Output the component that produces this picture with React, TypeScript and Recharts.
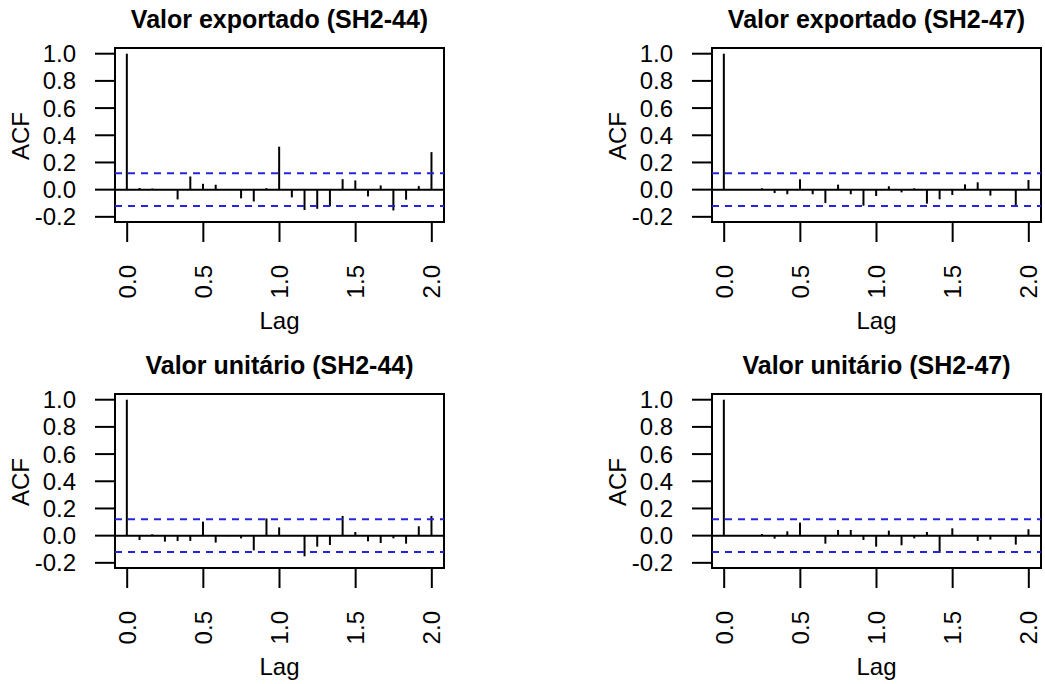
import { ComposedChart, Bar, XAxis, YAxis, ReferenceLine, ReferenceArea } from "recharts";

// lag in months (monthly series, frequency 12) -> lag in years on the axis
const lagMonths = [0, 1, 2, 3, 4, 5, 6, 7, 8, 9, 10, 11, 12, 13, 14, 15, 16, 17, 18, 19, 20, 21, 22, 23, 24];

const acfExport44 = [1.0, 0.012, 0.008, 0.0, -0.072, 0.097, 0.043, 0.036, 0.0, -0.064, -0.087, 0.011, 0.316, -0.057, -0.15, -0.141, -0.123, 0.077, 0.068, -0.05, 0.031, -0.153, -0.074, 0.026, 0.276];
const acfExport47 = [1.0, 0.002, 0.003, 0.01, -0.025, -0.034, 0.076, -0.034, -0.098, 0.037, -0.034, -0.118, -0.047, 0.025, -0.02, 0.01, -0.103, -0.071, -0.039, 0.039, 0.054, -0.044, 0.003, -0.127, 0.071];
const acfUnit44 = [1.0, -0.032, 0.01, -0.044, -0.039, -0.039, 0.103, -0.051, -0.004, -0.02, -0.108, 0.127, 0.061, 0.003, -0.152, -0.081, -0.069, 0.145, 0.027, -0.042, -0.054, -0.02, -0.059, 0.069, 0.145];
const acfUnit47 = [1.0, 0.0, 0.002, 0.012, -0.022, 0.032, 0.096, 0.0, -0.059, 0.042, 0.042, -0.032, -0.081, 0.037, -0.071, -0.02, 0.027, -0.127, 0.054, 0.0, -0.039, -0.029, 0.0, -0.066, 0.047];

const titles = ["Valor exportado (SH2-44)", "Valor exportado (SH2-47)", "Valor unitário (SH2-44)", "Valor unitário (SH2-47)"];
const series = [acfExport44, acfExport47, acfUnit44, acfUnit47];

const confLimit = 0.12;
const xTicks = [0, 0.5, 1, 1.5, 2];
const yTicks = [-0.2, 0, 0.2, 0.4, 0.6, 0.8, 1.0];
const xDomain: [number, number] = [-0.08, 2.08];
const yDomain: [number, number] = [-0.238, 1.042];

const FONT = "'Liberation Sans', Arial, Helvetica, sans-serif";

const Stick = (props: any) => {
  const { x, y, width, height } = props;
  if (x == null || y == null) return null;
  const cx = x + width / 2;
  return <line x1={cx} x2={cx} y1={y} y2={y + height} stroke="#000" strokeWidth={2} />;
};

const LagTick = (props: any) => {
  const { x, y, payload } = props;
  return (
    <text
      x={x}
      y={y}
      transform={`rotate(-90, ${x}, ${y})`}
      textAnchor="end"
      dy="0.35em"
      fontSize={24}
      fontFamily={FONT}
      fill="#000"
    >
      {Number(payload.value).toFixed(1)}
    </text>
  );
};

function AcfPanel({ title, values }: { title: string; values: number[] }) {
  const rows = lagMonths.map((m, i) => ({ lag: m / 12, acf: values[i] }));
  return (
    <ComposedChart width={448} height={346} data={rows} margin={{ top: 48, right: 4, left: 0, bottom: 0 }}>
      <XAxis
        type="number"
        dataKey="lag"
        domain={xDomain}
        ticks={xTicks}
        interval={0}
        allowDataOverflow
        height={124}
        axisLine={false}
        tickSize={20}
        tickMargin={23}
        tickLine={{ stroke: "#000", strokeWidth: 2 }}
        tick={<LagTick />}
        label={{
          content: (p: any) => {
            const vb = p.viewBox || {};
            return (
              <text x={vb.x + vb.width / 2} y={vb.y + 107} textAnchor="middle" fontSize={24} fontFamily={FONT} fill="#000">
                Lag
              </text>
            );
          },
        }}
      />
      <YAxis
        type="number"
        domain={yDomain}
        ticks={yTicks}
        interval={0}
        allowDataOverflow
        width={115}
        axisLine={false}
        tickSize={20}
        tickMargin={19}
        tickLine={{ stroke: "#000", strokeWidth: 2 }}
        tick={{ fontSize: 24, fontFamily: FONT, fill: "#000" }}
        tickFormatter={(v: number) => v.toFixed(1)}
        label={{
          content: (p: any) => {
            const vb = p.viewBox || {};
            const cx = vb.x + vb.width - 94;
            const cy = vb.y + vb.height / 2 + 1;
            return (
              <text
                x={cx}
                y={cy}
                transform={`rotate(-90, ${cx}, ${cy})`}
                textAnchor="middle"
                dy="0.35em"
                fontSize={24}
                fontFamily={FONT}
                fill="#000"
              >
                ACF
              </text>
            );
          },
        }}
      />
      <Bar dataKey="acf" barSize={2} shape={<Stick />} isAnimationActive={false} />
      <ReferenceLine y={0} stroke="#000" strokeWidth={2} />
      <ReferenceLine y={confLimit} stroke="#2424dc" strokeWidth={2} strokeDasharray="7 6" />
      <ReferenceLine y={-confLimit} stroke="#2424dc" strokeWidth={2} strokeDasharray="7 6" />
      <ReferenceArea
        x1={xDomain[0]}
        x2={xDomain[1]}
        y1={yDomain[0]}
        y2={yDomain[1]}
        fill="none"
        fillOpacity={0}
        stroke="#000"
        strokeWidth={2}
        label={{
          content: (p: any) => {
            const vb = p.viewBox || {};
            return (
              <text
                x={vb.x + vb.width / 2}
                y={vb.y - 20}
                textAnchor="middle"
                fontSize={25}
                fontWeight="bold"
                fontFamily={FONT}
                fill="#000"
              >
                {title}
              </text>
            );
          },
        }}
      />
    </ComposedChart>
  );
}

const positions = [
  { left: 0, top: 0 },
  { left: 597, top: 0 },
  { left: 0, top: 346 },
  { left: 597, top: 346 },
];

export default function App() {
  return (
    <div style={{ position: "absolute", left: 0, top: 0, width: 1045, height: 684, background: "#fff", overflow: "hidden" }}>
      {series.map((vals, i) => (
        <div key={titles[i]} style={{ position: "absolute", left: positions[i].left, top: positions[i].top }}>
          <AcfPanel title={titles[i]} values={vals} />
        </div>
      ))}
    </div>
  );
}
